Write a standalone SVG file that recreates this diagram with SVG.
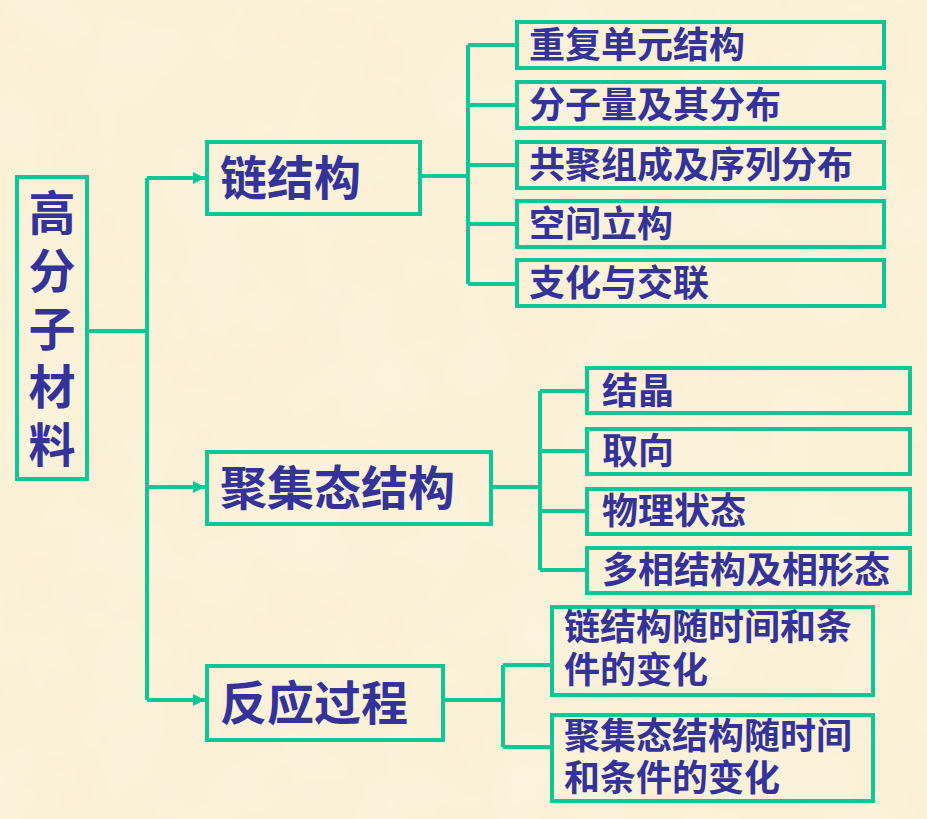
<svg xmlns="http://www.w3.org/2000/svg" width="927" height="819" viewBox="0 0 927 819">
  <style>
    .box { fill: none; stroke: #0DC797; stroke-width: 4; }
    .wire { fill: none; stroke: #0DC797; stroke-width: 4; stroke-linejoin: miter; }
    .t { font-family: "Noto Sans CJK SC", "Noto Sans", sans-serif; font-weight: bold; fill: #333399; }
    .root { font-size: 47px; writing-mode: vertical-rl; letter-spacing: 11px; }
    .mid { font-size: 47px; }
    .leaf { font-size: 36px; }
  </style>
  <defs>
    <marker id="arrow" markerWidth="12" markerHeight="12" refX="12" refY="6" orient="auto" markerUnits="userSpaceOnUse">
      <path d="M0,0 L12,6 L0,12 Z" fill="#0DC797"/>
    </marker>
    <filter id="paper" x="0" y="0" width="100%" height="100%">
      <feTurbulence type="fractalNoise" baseFrequency="0.012" numOctaves="3" seed="7"/>
      <feColorMatrix type="matrix" values="0 0 0 0 1  0 0 0 0 0.97  0 0 0 0 0.88  0 0 0 0.35 0"/>
    </filter>
  </defs>

  <!-- paper background -->
  <rect width="927" height="819" fill="#FAEFD4"/>
  <rect width="927" height="819" filter="url(#paper)"/>

  <!-- connectors -->
  <g id="connectors">
    <path class="wire" d="M89,331 H147 M147,178 V700"/>
    <path class="wire" d="M147,178 H205" marker-end="url(#arrow)"/>
    <path class="wire" d="M147,487 H205" marker-end="url(#arrow)"/>
    <path class="wire" d="M147,700 H205" marker-end="url(#arrow)"/>

    <path class="wire" d="M422,176 H468 M468,45 V284 M468,45 H515 M468,105 H515 M468,165 H515 M468,224 H515 M468,284 H515"/>
    <path class="wire" d="M493,487 H540 M540,391 V570 M540,391 H587 M540,451 H587 M540,511 H587 M540,570 H587"/>
    <path class="wire" d="M445,700 H503 M503,665 V747 M503,665 H552 M503,747 H552"/>
  </g>

  <!-- root: set vertically, one column -->
  <g id="root">
    <rect class="box" x="17" y="177" width="70" height="302"/>
    <text class="t root" x="52" y="188.5">高分子材料</text>
  </g>

  <!-- second level -->
  <g id="chain">
    <rect class="box" x="207" y="142" width="213" height="72"/>
    <text class="t mid" x="220" y="195">链结构</text>
  </g>
  <g id="aggregate">
    <rect class="box" x="207" y="452" width="284" height="72"/>
    <text class="t mid" x="220" y="505">聚集态结构</text>
  </g>
  <g id="reaction">
    <rect class="box" x="207" y="666" width="236" height="74"/>
    <text class="t mid" x="220" y="720">反应过程</text>
  </g>

  <!-- chain structure leaves -->
  <g id="repeat-unit">
    <rect class="box" x="517" y="22" width="367" height="46"/>
    <text class="t leaf" x="529" y="58">重复单元结构</text>
  </g>
  <g id="molecular-weight">
    <rect class="box" x="517" y="82" width="367" height="46"/>
    <text class="t leaf" x="529" y="118">分子量及其分布</text>
  </g>
  <g id="copolymer">
    <rect class="box" x="517" y="142" width="367" height="46"/>
    <text class="t leaf" x="529" y="178">共聚组成及序列分布</text>
  </g>
  <g id="stereo">
    <rect class="box" x="517" y="201" width="367" height="46"/>
    <text class="t leaf" x="529" y="237">空间立构</text>
  </g>
  <g id="branching">
    <rect class="box" x="517" y="260" width="367" height="46"/>
    <text class="t leaf" x="529" y="296">支化与交联</text>
  </g>

  <!-- aggregate structure leaves -->
  <g id="crystal">
    <rect class="box" x="587" y="368" width="323" height="45"/>
    <text class="t leaf" x="602" y="404">结晶</text>
  </g>
  <g id="orientation">
    <rect class="box" x="587" y="429" width="323" height="45"/>
    <text class="t leaf" x="602" y="464">取向</text>
  </g>
  <g id="physical-state">
    <rect class="box" x="587" y="489" width="323" height="45"/>
    <text class="t leaf" x="602" y="524">物理状态</text>
  </g>
  <g id="multiphase">
    <rect class="box" x="587" y="548" width="323" height="45"/>
    <text class="t leaf" x="602" y="583">多相结构及相形态</text>
  </g>

  <!-- reaction process leaves -->
  <g id="chain-change">
    <rect class="box" x="552" y="607" width="321" height="88"/>
    <text class="t leaf"><tspan x="564" y="640">链结构随时间和条</tspan><tspan x="564" y="683">件的变化</tspan></text>
  </g>
  <g id="aggregate-change">
    <rect class="box" x="552" y="715" width="321" height="86"/>
    <text class="t leaf"><tspan x="564" y="749">聚集态结构随时间</tspan><tspan x="564" y="791">和条件的变化</tspan></text>
  </g>
</svg>
